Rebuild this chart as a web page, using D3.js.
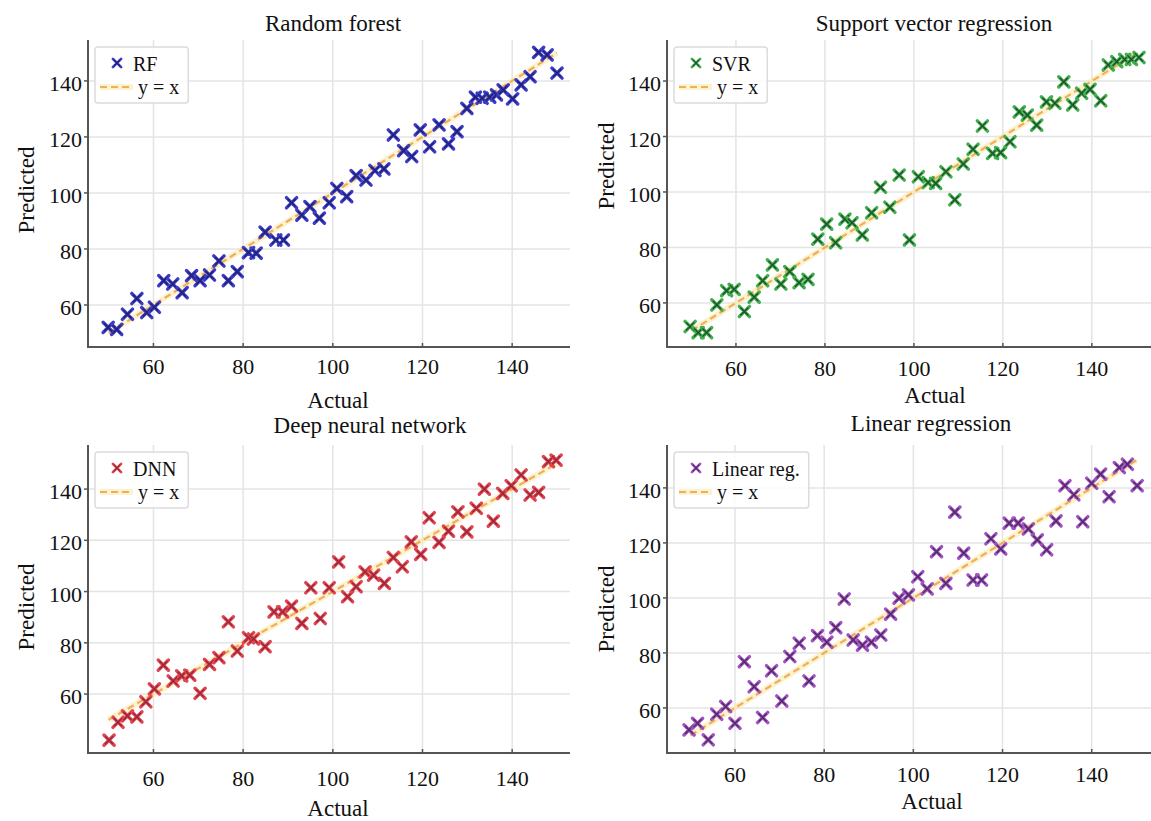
<!DOCTYPE html>
<html>
<head>
<meta charset="utf-8">
<style>
  body { margin: 0; background: #fff; }
  svg { display: block; font-family: "Liberation Serif", "Times New Roman", serif; }
</style>
</head>
<body>
<div id="container"></div>
<script src="https://d3js.org/d3.v7.min.js"></script>
<script>

// Values.
const rfActual = [49.9,51.8,54.2,56.3,58.5,60.2,62.3,64.3,66.4,68.5,70.4,72.5,74.6,76.7,78.7,81.2,82.9,84.9,87.3,89.0,90.8,93.1,94.9,97.0,99.2,100.9,103.1,105.2,107.4,109.4,111.4,113.5,115.8,117.6,119.5,121.6,123.7,125.8,127.7,129.9,131.8,133.3,135.0,136.5,138.0,140.1,142.0,144.0,145.9,147.8,150.0];
const rfPred   = [52.0,51.3,56.7,62.3,57.3,59.2,68.7,67.5,64.4,70.5,68.7,70.7,75.7,68.7,71.9,78.7,78.5,86.0,83.2,83.2,96.5,92.1,95.1,91.0,96.5,101.6,98.7,106.2,104.6,108.0,108.6,120.7,115.1,113.0,122.5,116.5,124.3,117.5,121.9,130.2,134.2,133.8,134.2,135.0,136.8,133.6,138.6,141.5,150.2,149.3,142.8];

const svrActual = [49.7,51.5,53.4,55.7,57.9,59.6,61.9,64.1,66.0,68.2,70.1,72.1,74.2,76.2,78.4,80.4,82.4,84.5,86.1,88.4,90.5,92.5,94.6,96.7,99.0,101.0,103.2,104.9,107.2,109.2,111.1,113.3,115.4,117.7,119.5,121.6,123.7,125.5,127.6,129.8,131.7,133.7,135.7,137.7,139.6,142.0,143.7,145.6,147.4,148.9,150.6];
const svrPred   = [51.5,49.3,49.3,59.3,64.4,64.9,56.9,62.1,68.0,73.7,66.8,71.3,67.3,68.5,83.0,88.4,81.7,90.2,88.9,84.5,92.5,101.7,94.5,106.1,82.7,105.5,103.4,103.1,107.3,97.2,110.1,115.4,123.8,113.9,114.2,118.1,128.9,127.7,124.1,132.5,132.0,139.7,131.4,135.6,137.0,132.9,145.8,147.0,147.8,147.8,148.5];

const dnnActual = [50.1,52.1,54.2,56.3,58.3,60.2,62.2,64.4,66.3,68.1,70.4,72.5,74.6,76.7,78.7,81.2,82.3,84.9,86.9,88.8,90.8,93.1,95.1,97.2,99.2,101.3,103.3,105.2,107.2,109.1,111.5,113.5,115.5,117.5,119.6,121.5,123.7,125.8,127.9,129.9,132.0,133.8,135.8,137.9,139.8,142.0,144.0,145.9,148.1,149.8];
const dnnPred   = [42.0,49.0,51.5,51.1,57.0,62.0,71.3,65.1,67.1,67.4,60.3,71.6,74.2,88.2,76.8,82.0,81.5,78.5,92.1,92.1,94.3,87.6,101.5,89.5,101.5,111.6,98.0,101.9,107.7,106.4,103.2,113.3,109.7,119.4,114.5,128.8,119.2,123.6,131.1,123.3,132.5,140.0,127.5,138.3,141.3,145.5,137.7,138.7,150.7,151.3];

const lrActual = [49.7,51.6,54.0,55.9,57.9,60.0,62.1,64.3,66.2,68.2,70.5,72.3,74.4,76.6,78.5,80.6,82.6,84.5,86.5,88.6,90.6,92.7,94.9,96.8,98.9,101.0,103.1,105.2,107.3,109.3,111.3,113.4,115.3,117.4,119.6,121.5,123.5,125.8,127.8,129.9,132.0,134.0,136.0,138.0,140.0,142.0,143.9,146.2,148.0,150.2];
const lrPred   = [52.0,54.4,48.4,57.7,60.5,54.4,76.8,67.7,56.5,73.5,62.5,78.7,83.5,69.8,86.3,83.9,89.2,99.6,84.7,82.8,83.9,86.5,94.1,99.9,101.1,107.7,103.3,116.8,105.3,131.2,116.3,106.5,106.5,121.5,117.8,127.2,127.2,125.1,121.1,117.5,128.0,140.8,137.5,127.7,141.7,145.0,136.8,147.4,148.6,140.8];

const titles = ["Random forest", "Support vector regression", "Deep neural network", "Linear regression"];
const legendNames = ["RF", "SVR", "DNN", "Linear reg."];
const xTicks = [60, 80, 100, 120, 140];
const yTicks = [60, 80, 100, 120, 140];
const identityLine = [50, 150];

const width = 1151;
const height = 821;

// Layout of each panel (pixels) and its axis domains.
const panels = [
  { actual: rfActual, pred: rfPred, color: "#3c3cc8", dark: "#20206e",
    xDom: [45.4, 152.9], xRange: [88, 570], yDom: [45, 154.6], yRange: [347, 40],
    title: [333, 31], xLab: [338, 408], yLab: [34, 190], tickY: 374 },
  { actual: svrActual, pred: svrPred, color: "#3fae4c", dark: "#214d2b",
    xDom: [44.5, 153.3], xRange: [667, 1151], yDom: [44.1, 154.8], yRange: [347, 40],
    title: [934, 31], xLab: [935, 403], yLab: [614, 166], tickY: 376 },
  { actual: dnnActual, pred: dnnPred, color: "#e2444f", dark: "#92283a",
    xDom: [45.4, 152.9], xRange: [88, 570], yDom: [37, 157.2], yRange: [753, 445],
    title: [370, 433], xLab: [338, 816], yLab: [34, 607], tickY: 786 },
  { actual: lrActual, pred: lrPred, color: "#a052c2", dark: "#4c2a5c",
    xDom: [44.75, 153.3], xRange: [667, 1151], yDom: [43.6, 155.6], yRange: [753, 445],
    title: [931, 431], xLab: [932, 809], yLab: [614, 609], tickY: 782 }
];

const svg = d3.create("svg")
    .attr("width", width)
    .attr("height", height)
    .attr("viewBox", [0, 0, width, height]);

svg.append("rect").attr("width", width).attr("height", height).attr("fill", "#fff");

const xMark = d3.symbol().type(d3.symbolX).size(70);
const xCore = d3.symbol().type(d3.symbolX).size(45);

function drawMarks(sel, p) {
  sel.append("path").attr("d", xMark)
      .attr("fill", "none").attr("stroke", p.color).attr("stroke-width", 3.4).attr("stroke-linecap", "round");
  sel.append("path").attr("d", xCore)
      .attr("fill", "none").attr("stroke", p.dark).attr("stroke-width", 1.3);
}

panels.forEach((p, k) => {
  const x = d3.scaleLinear().domain(p.xDom).range(p.xRange);
  const y = d3.scaleLinear().domain(p.yDom).range(p.yRange);
  const g = svg.append("g");
  const left = p.xRange[0], right = p.xRange[1];
  const top = p.yRange[1], bottom = p.yRange[0];

  // grid
  g.append("g").selectAll("line").data(xTicks).join("line")
      .attr("x1", d => x(d)).attr("x2", d => x(d))
      .attr("y1", top).attr("y2", bottom)
      .attr("stroke", "#e4e4e4").attr("stroke-width", 1.5);
  g.append("g").selectAll("line").data(yTicks).join("line")
      .attr("x1", left).attr("x2", right)
      .attr("y1", d => y(d)).attr("y2", d => y(d))
      .attr("stroke", "#e4e4e4").attr("stroke-width", 1.5);

  // y = x reference line
  const line = d3.line().x(d => x(d)).y(d => y(d));
  g.append("path").attr("d", line(identityLine))
      .attr("fill", "none").attr("stroke", "#fbe7a6").attr("stroke-width", 6).attr("stroke-opacity", 0.55);
  g.append("path").attr("d", line(identityLine))
      .attr("fill", "none").attr("stroke", "#efae5a").attr("stroke-width", 2.2)
      .attr("stroke-dasharray", "7,4");

  // points
  const pts = d3.zip(p.actual, p.pred);
  g.append("g").selectAll("g").data(pts).join("g")
      .attr("transform", d => `translate(${x(d[0])},${y(d[1])})`)
      .each(function() { drawMarks(d3.select(this), p); });

  // spines
  g.append("line").attr("x1", left).attr("x2", left).attr("y1", top).attr("y2", bottom + 1)
      .attr("stroke", "#555").attr("stroke-width", 2);
  g.append("line").attr("x1", left - 1).attr("x2", right).attr("y1", bottom).attr("y2", bottom)
      .attr("stroke", "#555").attr("stroke-width", 2);

  // ticks and tick labels
  g.append("g").selectAll("line").data(yTicks).join("line")
      .attr("x1", left - 4).attr("x2", left).attr("y1", d => y(d)).attr("y2", d => y(d))
      .attr("stroke", "#555").attr("stroke-width", 1.5);
  g.append("g").selectAll("text").data(yTicks).join("text")
      .attr("x", left - 6).attr("y", d => y(d) + 10)
      .attr("text-anchor", "end").attr("font-size", 22).attr("fill", "#111")
      .text(d => d);
  g.append("g").selectAll("line").data(xTicks).join("line")
      .attr("x1", d => x(d)).attr("x2", d => x(d)).attr("y1", bottom - 4).attr("y2", bottom)
      .attr("stroke", "#555").attr("stroke-width", 1.5);
  g.append("g").selectAll("text").data(xTicks).join("text")
      .attr("x", d => x(d)).attr("y", p.tickY)
      .attr("text-anchor", "middle").attr("font-size", 22).attr("fill", "#111")
      .text(d => d);

  // titles and axis labels
  g.append("text").attr("x", p.title[0]).attr("y", p.title[1])
      .attr("text-anchor", "middle").attr("font-size", 23).attr("fill", "#111")
      .text(titles[k]);
  g.append("text").attr("x", p.xLab[0]).attr("y", p.xLab[1])
      .attr("text-anchor", "middle").attr("font-size", 23).attr("fill", "#111")
      .text("Actual");
  g.append("text")
      .attr("transform", `translate(${p.yLab[0]},${p.yLab[1]}) rotate(-90)`)
      .attr("text-anchor", "middle").attr("font-size", 23).attr("fill", "#111")
      .text("Predicted");

  // legend
  const bx = left + 7, by = top + 7;
  const leg = g.append("g").attr("transform", `translate(${bx},${by})`);
  const box = leg.append("rect").attr("rx", 3)
      .attr("fill", "#fff").attr("fill-opacity", 0.85)
      .attr("stroke", "#dcdcdc").attr("stroke-width", 1.5);
  leg.append("g").attr("transform", "translate(22,16) scale(0.8)")
      .call(s => drawMarks(s, p));
  const t1 = leg.append("text").attr("x", 38).attr("y", 24)
      .attr("font-size", 20).attr("fill", "#111").text(legendNames[k]);
  leg.append("line").attr("x1", 5).attr("x2", 38).attr("y1", 40).attr("y2", 40)
      .attr("stroke", "#fbe7a6").attr("stroke-width", 6).attr("stroke-opacity", 0.55);
  leg.append("line").attr("x1", 5).attr("x2", 38).attr("y1", 40).attr("y2", 40)
      .attr("stroke", "#efae5a").attr("stroke-width", 2.2).attr("stroke-dasharray", "7,4");
  const t2 = leg.append("text").attr("x", 43).attr("y", 47)
      .attr("font-size", 20).attr("fill", "#111").text("y = x");
  container.append(svg.node());
  const w = Math.max(t1.node().getBBox().width + 38, t2.node().getBBox().width + 43) + 9;
  box.attr("width", w).attr("height", 56);
});

document.getElementById("container").append(svg.node());
</script>
</body>
</html>
